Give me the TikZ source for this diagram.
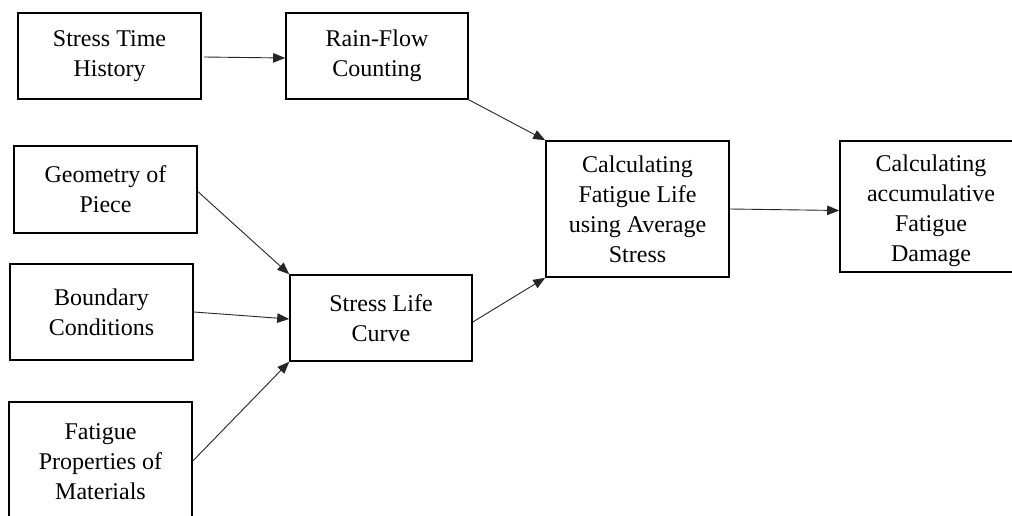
\documentclass[tikz,border=0pt]{standalone}
\usepackage{fontspec}
\setmainfont{Liberation Serif}
\usetikzlibrary{arrows.meta}
\begin{document}
\begin{tikzpicture}[x=1pt,y=-1pt,
  box/.style={draw=black,line width=1.6pt,fill=white,inner sep=0pt,align=center,
    font=\fontsize{24}{30}\selectfont},
  conn/.style={draw=black!85,line width=0.9pt,-{Triangle[length=12pt,width=9.5pt]}}]
\useasboundingbox[fill=white] (0,0) rectangle (1012,516);
\node[box,minimum width=183pt,minimum height=86pt] (a) at (109.5,56) {Stress Time\\History};
\node[box,minimum width=182pt,minimum height=86pt] (b) at (377,56) {Rain-Flow\\Counting};
\node[box,minimum width=183pt,minimum height=87pt] (c) at (105.5,189.5) {Geometry of\\Piece};
\node[box,minimum width=183pt,minimum height=96pt] (d) at (101.5,312) {Boundary\\Conditions};
\node[box,minimum width=183pt,minimum height=120pt] (e) at (100.5,462) {Fatigue\\Properties of\\Materials};
\node[box,minimum width=182pt,minimum height=86pt] (f) at (381,318) {Stress Life\\Curve};
\node[box,minimum width=183pt,minimum height=136pt] (g) at (637.5,209) {Calculating\\Fatigue Life\\using Average\\Stress};
\node[box,minimum width=182pt,minimum height=131pt] (h) at (931,206.5) {\rule{0pt}{26pt}Calculating\\accumulative\\Fatigue\\Damage};
\draw[conn] ([xshift=2pt,yshift=-1pt]a.east) -- ([yshift=-2pt]b.west);
\draw[conn] (b.south east) -- (g.north west);
\draw[conn] ([yshift=-2pt]c.east) -- (f.north west);
\draw[conn] (d.east) -- ([yshift=-1pt]f.west);
\draw[conn] ([yshift=1pt]e.east) -- (f.south west);
\draw[conn] ([yshift=-4pt]f.east) -- (g.south west);
\draw[conn] (g.east) -- ([yshift=-4pt]h.west);
\end{tikzpicture}
\end{document}
